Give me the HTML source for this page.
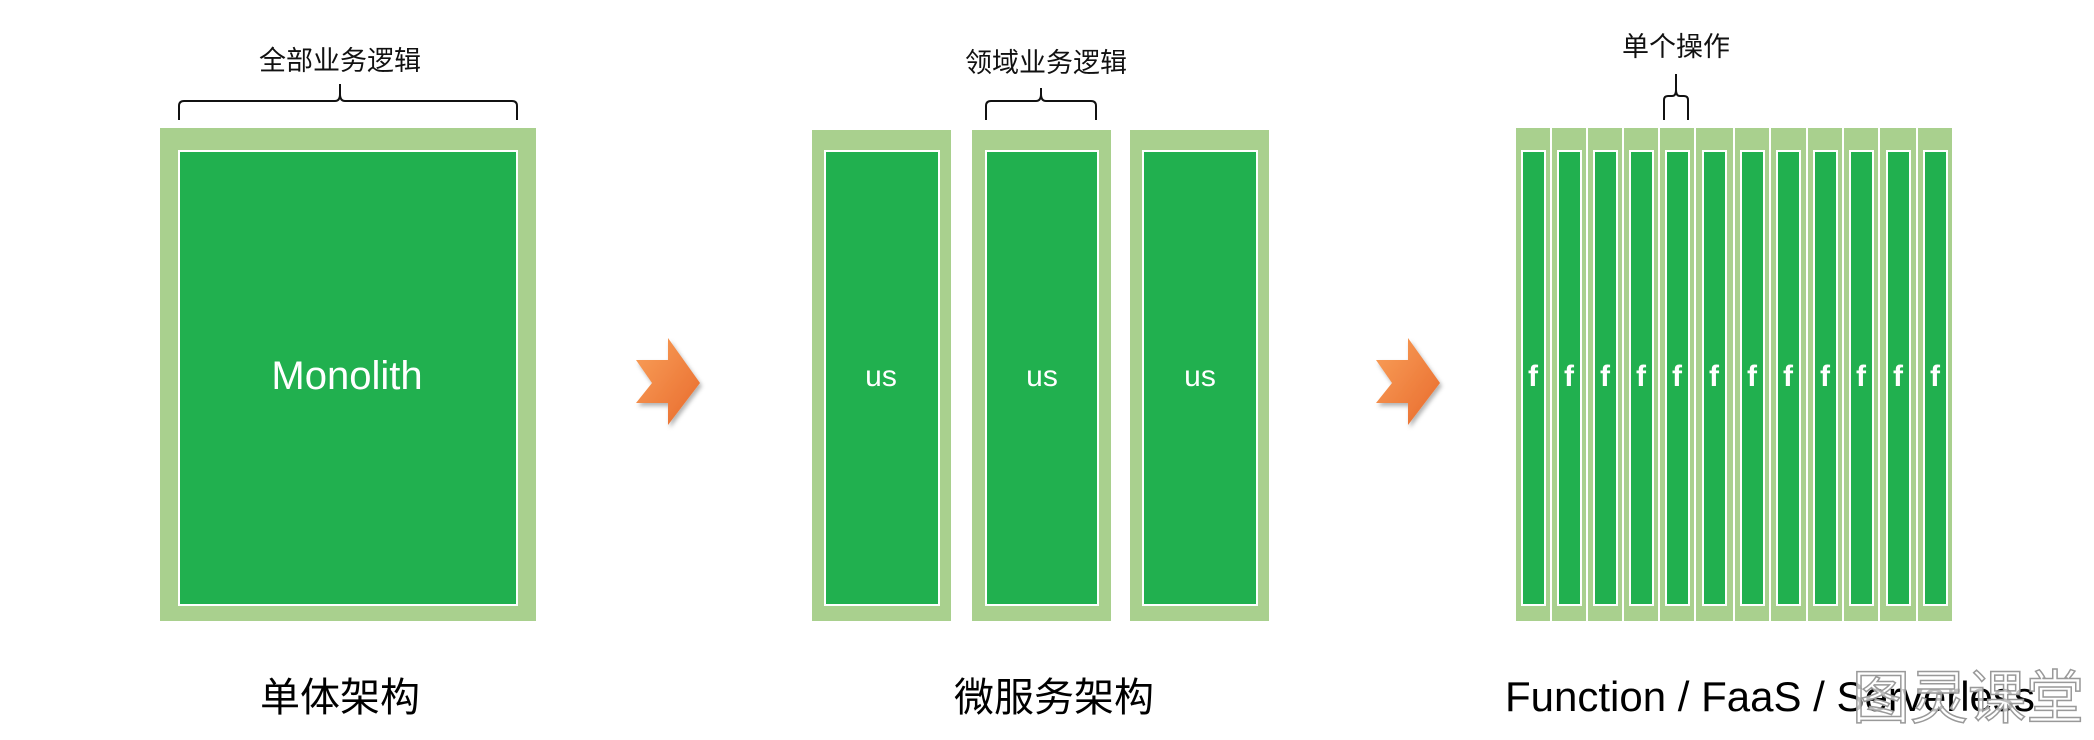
<!DOCTYPE html>
<html><head><meta charset="utf-8"><style>
html,body{margin:0;padding:0;background:#fff;}
svg{display:block;}
text{font-family:"Liberation Sans","Noto Sans CJK SC",sans-serif;}
</style></head><body>
<svg width="2094" height="740" viewBox="0 0 2094 740" xmlns="http://www.w3.org/2000/svg">
<defs>
<linearGradient id="og" x1="0" y1="0" x2="1" y2="1">
<stop offset="0" stop-color="#f9a05a"/><stop offset="1" stop-color="#e86a2c"/>
</linearGradient>
<filter id="sh" x="-20%" y="-20%" width="150%" height="150%"><feDropShadow dx="2" dy="3" stdDeviation="2" flood-color="#000" flood-opacity="0.3"/></filter>
</defs>
<!-- Monolith -->
<text x="340" y="70" font-size="27" text-anchor="middle" fill="#111">全部业务逻辑</text>
<path d="M179,120 V106 Q179,101 184,101 H335 Q340,101 340,94 V84 M340,94 Q340,101 345,101 H512 Q517,101 517,106 V120" fill="none" stroke="#111" stroke-width="2"/>
<rect x="160" y="128" width="376" height="493" fill="#a9d08e"/>
<rect x="179" y="151" width="338" height="454" fill="#21b04f" stroke="#fff" stroke-width="2"/>
<text x="347" y="389" font-size="40" text-anchor="middle" fill="#fff">Monolith</text>
<text x="340" y="711" font-size="40" text-anchor="middle" fill="#000">单体架构</text>
<!-- Arrow 1 -->
<polygon points="636,360 668,360 668,338 700,383 668,425 668,403 636,403 652,383" fill="url(#og)" filter="url(#sh)"/>
<!-- Microservices -->
<text x="1046" y="72" font-size="27" text-anchor="middle" fill="#111">领域业务逻辑</text>
<path d="M986,120 V106 Q986,101 991,101 H1036 Q1041,101 1041,94 V88 M1041,94 Q1041,101 1046,101 H1091 Q1096,101 1096,106 V120" fill="none" stroke="#111" stroke-width="2"/>
<rect x="812" y="130" width="139" height="491" fill="#a9d08e"/>
<rect x="825" y="151" width="114" height="454" fill="#21b04f" stroke="#fff" stroke-width="2"/>
<rect x="972" y="130" width="139" height="491" fill="#a9d08e"/>
<rect x="986" y="151" width="112" height="454" fill="#21b04f" stroke="#fff" stroke-width="2"/>
<rect x="1130" y="130" width="139" height="491" fill="#a9d08e"/>
<rect x="1143" y="151" width="114" height="454" fill="#21b04f" stroke="#fff" stroke-width="2"/>
<text x="881" y="386" font-size="30" text-anchor="middle" fill="#fff">us</text>
<text x="1042" y="386" font-size="30" text-anchor="middle" fill="#fff">us</text>
<text x="1200" y="386" font-size="30" text-anchor="middle" fill="#fff">us</text>
<text x="1054" y="711" font-size="40" text-anchor="middle" fill="#000">微服务架构</text>
<!-- Arrow 2 -->
<polygon points="1376,360 1408,360 1408,338 1440,383 1408,425 1408,403 1376,403 1392,383" fill="url(#og)" filter="url(#sh)"/>
<!-- Functions -->
<text x="1676" y="56" font-size="27" text-anchor="middle" fill="#111">单个操作</text>
<path d="M1664,120 V100 Q1664,96 1668,96 H1672 Q1676,96 1676,90 V74 M1676,90 Q1676,96 1680,96 H1684 Q1688,96 1688,100 V120" fill="none" stroke="#111" stroke-width="2"/>
<g fill="#a9d08e">
<rect x="1516" y="128" width="34" height="493"/>
<rect x="1552" y="128" width="34" height="493"/>
<rect x="1588" y="128" width="34" height="493"/>
<rect x="1624" y="128" width="34" height="493"/>
<rect x="1660" y="128" width="34" height="493"/>
<rect x="1696" y="128" width="37" height="493"/>
<rect x="1735" y="128" width="34" height="493"/>
<rect x="1771" y="128" width="35" height="493"/>
<rect x="1808" y="128" width="34" height="493"/>
<rect x="1844" y="128" width="34" height="493"/>
<rect x="1880" y="128" width="36" height="493"/>
<rect x="1918" y="128" width="34" height="493"/>
</g>
<g fill="#21b04f" stroke="#fff" stroke-width="2">
<rect x="1522" y="151" width="23" height="454"/>
<rect x="1558" y="151" width="23" height="454"/>
<rect x="1594" y="151" width="23" height="454"/>
<rect x="1630" y="151" width="23" height="454"/>
<rect x="1666" y="151" width="23" height="454"/>
<rect x="1703" y="151" width="23" height="454"/>
<rect x="1741" y="151" width="23" height="454"/>
<rect x="1777" y="151" width="23" height="454"/>
<rect x="1814" y="151" width="23" height="454"/>
<rect x="1850" y="151" width="23" height="454"/>
<rect x="1887" y="151" width="23" height="454"/>
<rect x="1924" y="151" width="23" height="454"/>
</g>
<g fill="#fff" font-size="30" font-weight="bold" text-anchor="middle">
<text x="1533" y="386">f</text><text x="1569" y="386">f</text><text x="1605" y="386">f</text>
<text x="1641" y="386">f</text><text x="1677" y="386">f</text><text x="1714" y="386">f</text>
<text x="1752" y="386">f</text><text x="1788" y="386">f</text><text x="1825" y="386">f</text>
<text x="1861" y="386">f</text><text x="1898" y="386">f</text><text x="1935" y="386">f</text>
</g>
<text x="1505" y="711" font-size="42" fill="#000">Function / FaaS / Serverless</text>
<text x="1852" y="718" font-size="58" fill="#fff" fill-opacity="0.75" stroke="#999" stroke-width="1.5">图灵课堂</text>
</svg>
</body></html>
